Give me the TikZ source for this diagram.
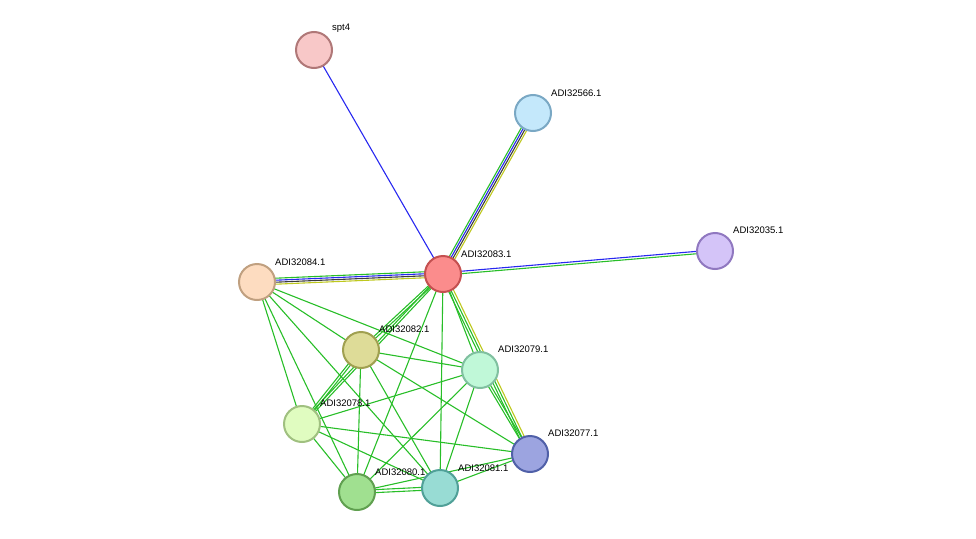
\documentclass[tikz,border=0pt]{standalone}
\usepackage{fontspec}
\setmainfont{Liberation Sans}
\usetikzlibrary{calc}
\begin{document}
\begin{tikzpicture}[x=1pt,y=-1pt,
  prot/.style={circle,minimum size=36pt,inner sep=0pt,line width=2pt},
  lab/.style={font=\fontsize{9.5}{10}\selectfont,anchor=south west,inner sep=0pt},
  e/.style={line width=1.1pt}]
\useasboundingbox (0,0) rectangle (976,538);
\coordinate (spt) at (314,50);
\coordinate (n566) at (533,113);
\coordinate (n083) at (443,274);
\coordinate (n035) at (715,251);
\coordinate (n084) at (257,282);
\coordinate (n082) at (361,350);
\coordinate (n079) at (480,370);
\coordinate (n078) at (302,424);
\coordinate (n077) at (530,454);
\coordinate (n080) at (357,492);
\coordinate (n081) at (440,488);
\newcommand\pe[4]{\draw[e,#4] ($(#1)!#3!90:(#2)$) -- ($(#2)!#3!-90:(#1)$);}
\colorlet{sg}{green!70!black!80!green}
\definecolor{eg}{RGB}{40,190,40}
\definecolor{eb}{RGB}{40,40,240}
\definecolor{ey}{RGB}{190,200,30}
\definecolor{ek}{RGB}{60,60,60}
% hub edges
\pe{spt}{n083}{0pt}{eb}
\pe{n566}{n083}{-3pt}{eg}\pe{n566}{n083}{-1pt}{eb}\pe{n566}{n083}{1pt}{ek}\pe{n566}{n083}{3pt}{ey}
\pe{n035}{n083}{-1.2pt}{eb}\pe{n035}{n083}{1.2pt}{eg}
\pe{n084}{n083}{-3pt}{ey}\pe{n084}{n083}{-1pt}{ek}\pe{n084}{n083}{1pt}{eb}\pe{n084}{n083}{3pt}{eg}
\pe{n083}{n077}{-2.5pt}{eg}\pe{n083}{n077}{0pt}{eg}\pe{n083}{n077}{2.5pt}{ey}
\pe{n083}{n082}{-1.2pt}{eg}\pe{n083}{n082}{1.2pt}{eg}
\pe{n083}{n078}{-1.2pt}{eg}\pe{n083}{n078}{1.2pt}{eg}
\pe{n083}{n079}{0pt}{eg}
\pe{n083}{n080}{0pt}{eg}
\pe{n083}{n081}{0pt}{eg}
% cluster
\foreach \a/\b in {n084/n082,n084/n079,n084/n078,n084/n080,n084/n081,
  n082/n079,n082/n080,n082/n081,n082/n077,
  n079/n078,n079/n080,n079/n081,
  n078/n077,n078/n080,n078/n081,n080/n077,n081/n077}{\pe{\a}{\b}{0pt}{eg}}
\pe{n082}{n078}{-1.2pt}{eg}\pe{n082}{n078}{1.2pt}{eg}
\pe{n079}{n077}{-1.2pt}{eg}\pe{n079}{n077}{1.2pt}{eg}
\pe{n080}{n081}{-1.5pt}{eg}\pe{n080}{n081}{1.5pt}{eg}
% nodes
\node[prot,fill={rgb,255:red,248;green,200;blue,200},draw={rgb,255:red,176;green,120;blue,120}] (a) at (spt) {};
\node[prot,fill={rgb,255:red,196;green,232;blue,251},draw={rgb,255:red,122;green,168;blue,196}] (b) at (n566) {};
\node[prot,fill={rgb,255:red,251;green,140;blue,140},draw={rgb,255:red,196;green,80;blue,80}] (c) at (n083) {};
\node[prot,fill={rgb,255:red,212;green,196;blue,248},draw={rgb,255:red,144;green,120;blue,192}] (d) at (n035) {};
\node[prot,fill={rgb,255:red,253;green,220;blue,192},draw={rgb,255:red,192;green,160;blue,128}] (f) at (n084) {};
\node[prot,fill={rgb,255:red,222;green,220;blue,152},draw={rgb,255:red,160;green,160;blue,80}] (g) at (n082) {};
\node[prot,fill={rgb,255:red,192;green,248;blue,216},draw={rgb,255:red,128;green,192;blue,160}] (h) at (n079) {};
\node[prot,fill={rgb,255:red,224;green,252;blue,192},draw={rgb,255:red,160;green,192;blue,128}] (i) at (n078) {};
\node[prot,fill={rgb,255:red,156;green,164;blue,224},draw={rgb,255:red,80;green,96;blue,168}] (j) at (n077) {};
\node[prot,fill={rgb,255:red,160;green,224;blue,144},draw={rgb,255:red,96;green,160;blue,80}] (k) at (n080) {};
\node[prot,fill={rgb,255:red,152;green,220;blue,212},draw={rgb,255:red,80;green,160;blue,152}] (l) at (n081) {};
% labels
\node[lab] (la) at (332,33) {spt4};
\node[lab] (lb) at (551,97) {ADI32566.1};
\node[lab] (lc) at (461,258) {ADI32083.1};
\node[lab] (ld) at (733,234) {ADI32035.1};
\node[lab] (lf) at (275,266) {ADI32084.1};
\node[lab] (lg) at (379,333) {ADI32082.1};
\node[lab] (lh) at (498,353) {ADI32079.1};
\node[lab] (li) at (320,407) {ADI32078.1};
\node[lab] (lj) at (548,437) {ADI32077.1};
\node[lab] (lk) at (375,476) {ADI32080.1};
\node[lab] (ll) at (458,472) {ADI32081.1};
\end{tikzpicture}
\end{document}
